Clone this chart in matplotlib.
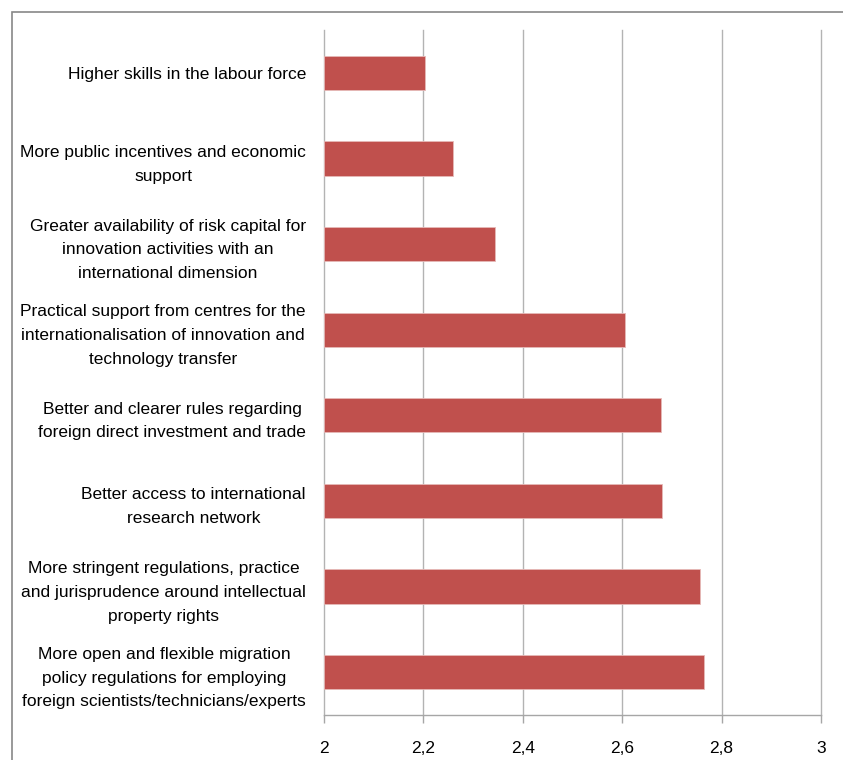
import matplotlib
matplotlib.use("Agg")
import matplotlib.pyplot as plt
from matplotlib.patches import Rectangle
from matplotlib.ticker import FuncFormatter

categories = [
    "Higher skills in the labour force",
    "More public incentives and economic\nsupport",
    "Greater availability of risk capital for\ninnovation activities with an\ninternational dimension",
    "Practical support from centres for the\ninternationalisation of innovation and\ntechnology transfer",
    "Better and clearer rules regarding\nforeign direct investment and trade",
    "Better access to international\nresearch network",
    "More stringent regulations, practice\nand jurisprudence around intellectual\nproperty rights",
    "More open and flexible migration\npolicy regulations for employing\nforeign scientists/technicians/experts",
]
values = [2.204, 2.26, 2.345, 2.606, 2.678, 2.681, 2.756, 2.764]
xticks = [2.0, 2.2, 2.4, 2.6, 2.8, 3.0]

plt.rcParams['font.family'] = ['Liberation Sans', 'DejaVu Sans']

W, H = 843, 760
fig = plt.figure(figsize=(W / 100, H / 100), dpi=100)
ax = fig.add_axes([324 / W, 1 - 715 / H, (821 - 324) / W, (715 - 30) / H])

n = len(categories)
ypos = list(range(n))
ax.barh(ypos, [v - 2 for v in values], left=2, height=0.4, color='#C0504D',
        edgecolor='#E6B9B8', linewidth=0.6, zorder=3)
ax.set_ylim(n - 0.5, -0.5)
ax.set_xlim(2, 3)
ax.set_xticks(xticks)
ax.xaxis.set_major_formatter(FuncFormatter(lambda v, p: ("%g" % v).replace('.', ',')))
ax.set_yticks(ypos)
ax.set_yticklabels(categories, multialignment='center', fontsize=12.5, color='#000000',
                   linespacing=1.72)
ax.tick_params(axis='y', length=0, pad=13)
ax.tick_params(axis='x', length=6, color='#A6A6A6', width=1, labelsize=12.5, pad=13, labelcolor='#000000')
ax.grid(axis='x', color='#B3B3B3', linewidth=1, zorder=0)
for gl in ax.get_xgridlines():
    gl.set_clip_on(False)
for s in ['top', 'right', 'left']:
    ax.spines[s].set_visible(False)
ax.spines['bottom'].set_color('#A6A6A6')
ax.spines['bottom'].set_linewidth(1)

fig.patches.append(Rectangle((12 / W, -0.1), 1.2, 1 - 12 / H + 0.1, transform=fig.transFigure,
                             fill=False, edgecolor='#888888', linewidth=1.2, figure=fig))

fig.savefig('out.png', dpi=100)
